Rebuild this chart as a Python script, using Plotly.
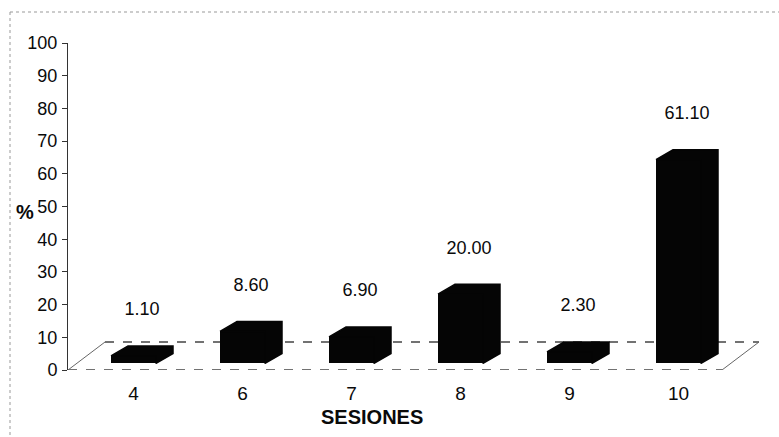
import plotly.graph_objects as go

# ---------------- data ----------------
sesiones = ["4", "6", "7", "8", "9", "10"]
porcentaje = [1.10, 8.60, 6.90, 20.00, 2.30, 61.10]
etiquetas = ["1.10", "8.60", "6.90", "20.00", "2.30", "61.10"]
y_ticks = [0, 10, 20, 30, 40, 50, 60, 70, 80, 90, 100]

# ---------------- layout geometry ----------------
W, H = 779, 437
L, R, T, B = 68, 11, 43, 67
pw, ph = W - L - R, H - T - B
px_x = 109.0                      # pixels per category
px_y = ph / 100.0                 # pixels per % unit
x0 = -65.5 / px_x                 # left end of axis range
x1 = x0 + pw / px_x
xs = list(range(len(sesiones)))

# pseudo-3D parameters
floor_dx, floor_dy = 37 / px_x, 28 / px_y
floor_end = x0 + 654 / px_x
bar_base = 2.0
bar_cap = 1.2                     # extra front-face height of the 3D projection
bar_w = 45 / px_x
dep_dx, dep_dy = 17 / px_x, 10 / px_y

FONT = "Arial, Liberation Sans, Helvetica, sans-serif"
INK = "#0a0a0a"

fig = go.Figure()

# front faces of bars
fig.add_trace(go.Bar(
    x=xs, y=[v + bar_cap for v in porcentaje], base=[bar_base] * len(xs), width=bar_w,
    marker=dict(color="#050505", line=dict(width=0)),
    hoverinfo="skip", showlegend=False,
))

# top + side faces (depth)
px_list, py_list = [], []
for xi, v in zip(xs, porcentaje):
    xl, xr = xi - bar_w / 2, xi + bar_w / 2
    b, t = bar_base, bar_base + v + bar_cap
    px_list += [xl, xl + dep_dx, xr + dep_dx, xr + dep_dx, xr, xr, xl, None]
    py_list += [t, t + dep_dy, t + dep_dy, b + dep_dy, b, t, t, None]
fig.add_trace(go.Scatter(
    x=px_list, y=py_list, mode="lines", fill="toself",
    fillcolor="#050505", line=dict(color="#050505", width=1.5),
    hoverinfo="skip", showlegend=False,
))

# value labels
fig.add_trace(go.Scatter(
    x=[xi + dep_dx / 2 for xi in xs],
    y=[v + 17 for v in porcentaje],
    mode="text", text=etiquetas,
    textfont=dict(family=FONT, size=18, color=INK),
    hoverinfo="skip", showlegend=False,
))

# floor (pseudo 3D plane)
shapes = [
    dict(type="line", xref="x", yref="y", x0=x0, y0=0, x1=floor_end, y1=0,
         line=dict(color="#444444", width=1.5, dash="dash"), layer="below"),
    dict(type="line", xref="x", yref="y", x0=x0 + floor_dx, y0=floor_dy,
         x1=floor_end + floor_dx, y1=floor_dy,
         line=dict(color="#444444", width=1.5, dash="dash"), layer="below"),
    dict(type="line", xref="x", yref="y", x0=x0, y0=0, x1=x0 + floor_dx, y1=floor_dy,
         line=dict(color="#666666", width=1), layer="below"),
    dict(type="line", xref="x", yref="y", x0=floor_end, y0=0,
         x1=floor_end + floor_dx, y1=floor_dy,
         line=dict(color="#666666", width=1), layer="below"),
]

# scan frame (paper coordinates from pixels)
def pxx(p):
    return (p - L) / pw

def pxy(p):
    return (H - B - p) / ph

shapes += [
    dict(type="line", xref="paper", yref="paper", x0=pxx(10), y0=pxy(12), x1=pxx(779), y1=pxy(12),
         line=dict(color="#999999", width=1, dash="dot")),
    dict(type="line", xref="paper", yref="paper", x0=pxx(10), y0=pxy(12), x1=pxx(10), y1=pxy(437),
         line=dict(color="#999999", width=1, dash="dot")),
]

annotations = [
    dict(text="%", xref="paper", yref="paper", x=pxx(25), y=pxy(212),
         showarrow=False, font=dict(family=FONT, size=20, color=INK, weight="bold"),
         xanchor="center", yanchor="middle"),
    dict(text="SESIONES", xref="paper", yref="paper", x=pxx(372), y=pxy(417),
         showarrow=False, font=dict(family=FONT, size=20, color=INK, weight="bold"),
         xanchor="center", yanchor="middle"),
]

fig.update_layout(
    width=W, height=H,
    margin=dict(l=L, r=R, t=T, b=B),
    paper_bgcolor="white", plot_bgcolor="white",
    shapes=shapes, annotations=annotations,
    bargap=0,
    xaxis=dict(
        range=[x0, x1], tickmode="array", tickvals=xs, ticktext=sesiones,
        showgrid=False, zeroline=False, showline=False, ticks="",
        tickfont=dict(family=FONT, size=19, color=INK),
        ticklabelstandoff=10, fixedrange=True, automargin=False,
    ),
    yaxis=dict(
        range=[0, 100], tickmode="array", tickvals=y_ticks,
        showgrid=False, zeroline=False, showline=True, linecolor="#333333", linewidth=1,
        ticks="outside", ticklen=5, tickcolor="#333333",
        tickfont=dict(family=FONT, size=18, color=INK),
        ticklabelstandoff=1, fixedrange=True, automargin=False,
    ),
)

fig.write_html("out.html", config={"displayModeBar": False},
               post_script="document.body.style.margin='0';")
